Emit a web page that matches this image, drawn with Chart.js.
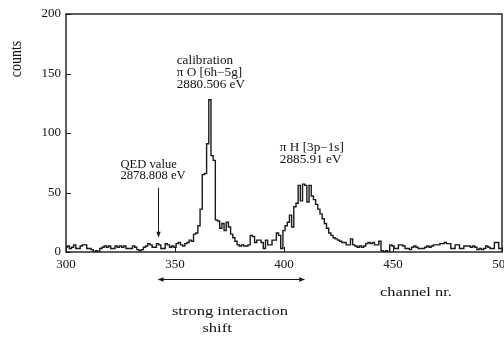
<!DOCTYPE html>
<html>
<head>
<meta charset="utf-8">
<script src="https://cdn.jsdelivr.net/npm/chart.js@4"></script>
<style>
  body { margin: 0; background: #fff; }
</style>
</head>
<body>
<canvas id="grafico" width="504" height="337"></canvas>
<script>
// counts per channel
var firstChannel = 300;
var counts300 = [4,5,3,4,6,3,3,5,6,6, 3,3,2,0,1,0,3,4,5,4, 5,3,3,5,4,5,4,5,3,3,
                 3,5,4,2,1,2,4,5,7,6, 4,4,7,6,3,3,7,6,4,5, 4,7,8,6,5,7,8,10,9,15];
var counts360 = [16,22,36,65,66,91,128,81,77,27, 26,20,24,18,25,21,15,12,9,6,
                 5,6,5,5,6,14,13,8,10,10, 8,3,10,6,6,10,10,16,14,3,
                 18,22,25,31,21,38,41,56,43,57, 56,42,56,47,44,40,36,32,28,24];
var counts420 = [20,16,14,12,11,10,9,8,8,6, 6,11,6,5,4,5,4,5,7,8,
                 7,8,6,6,9,1,0,1,0,6, 5,3,3,6,6,5,3,3,2,4,
                 5,4,3,3,3,4,5,4,5,6, 6,6,7,7,8,7,7,3,3,6];
var counts480 = [6,3,3,5,5,5,4,5,4,2, 3,2,3,5,4,3,3,8,8,3,3];

var ticksX = [300, 350, 400, 450, 500];
var ticksY = [0, 50, 100, 150, 200];

var serif = '"Liberation Serif", "Times New Roman", serif';

function buildPoints() {
  var all = counts300.concat(counts360, counts420, counts480);
  var pts = [];
  for (var i = 0; i < all.length; i++) {
    pts.push({x: firstChannel + i, y: all[i]});
  }
  return pts;
}

function text(ctx, str, x, y, size, align, sx) {
  ctx.save();
  ctx.font = size + 'px ' + serif;
  ctx.fillStyle = '#111';
  ctx.textAlign = align;
  ctx.textBaseline = 'middle';
  ctx.translate(x, y);
  ctx.scale(sx, 1);
  ctx.fillText(str, 0, 0);
  ctx.restore();
}

function head(ctx, x, y, dx, dy) {
  // small filled arrow head pointing along (dx,dy)
  var L = 6, W = 2.2;
  ctx.beginPath();
  ctx.moveTo(x, y);
  ctx.lineTo(x - dx * L - dy * W, y - dy * L + dx * W);
  ctx.lineTo(x - dx * L + dy * W, y - dy * L - dx * W);
  ctx.closePath();
  ctx.fill();
}

var extras = {
  id: 'extras',
  afterDraw: function(chart) {
    var ctx = chart.ctx;
    var a = chart.chartArea;
    var xs = chart.scales.x, ys = chart.scales.y;
    ctx.save();
    ctx.strokeStyle = '#1a1a1a';
    ctx.fillStyle = '#1a1a1a';
    ctx.lineWidth = 1.4;
    ctx.strokeRect(a.left, a.top, a.right - a.left, a.bottom - a.top);

    // inward ticks
    ctx.lineWidth = 1;
    ctx.beginPath();
    ticksY.forEach(function(v) {
      var y = Math.round(ys.getPixelForValue(v)) + 0.5;
      ctx.moveTo(a.left, y); ctx.lineTo(a.left + 5, y);
    });
    ticksX.forEach(function(v) {
      var x = Math.round(xs.getPixelForValue(v)) + 0.5;
      ctx.moveTo(x, a.bottom); ctx.lineTo(x, a.bottom - 5);
    });
    ctx.stroke();

    // peak labels
    var cx = xs.getPixelForValue(350.8);
    text(ctx, 'calibration', cx, ys.getPixelForValue(161), 12, 'left', 1.1);
    text(ctx, 'π O [6h−5g]', cx, ys.getPixelForValue(150.5), 12, 'left', 1.1);
    text(ctx, '2880.506 eV', cx, ys.getPixelForValue(140.3), 12, 'left', 1.1);

    var hx = xs.getPixelForValue(398.1);
    text(ctx, 'π H [3p−1s]', hx, ys.getPixelForValue(87.4), 12, 'left', 1.1);
    text(ctx, '2885.91 eV', hx, ys.getPixelForValue(77.3), 12, 'left', 1.1);

    var qx = xs.getPixelForValue(325);
    text(ctx, 'QED value', qx, ys.getPixelForValue(73.1), 12, 'left', 1.05);
    text(ctx, '2878.808 eV', qx, ys.getPixelForValue(63.9), 12, 'left', 1.05);

    // QED arrow
    var ax = Math.round(xs.getPixelForValue(342)) + 0.5;
    var ay1 = ys.getPixelForValue(54), ay2 = ys.getPixelForValue(12);
    ctx.beginPath();
    ctx.moveTo(ax, ay1); ctx.lineTo(ax, ay2 - 4);
    ctx.stroke();
    head(ctx, ax, ay2, 0, 1);

    // strong interaction shift arrow
    var sx1 = xs.getPixelForValue(342), sx2 = xs.getPixelForValue(409.7);
    var sy = a.bottom + 27.5;
    ctx.beginPath();
    ctx.moveTo(sx1 + 4, sy); ctx.lineTo(sx2 - 4, sy);
    ctx.stroke();
    head(ctx, sx1, sy, -1, 0);
    head(ctx, sx2, sy, 1, 0);

    text(ctx, 'channel nr.', xs.getPixelForValue(460.5), a.bottom + 41, 13, 'center', 1.26);
    text(ctx, 'strong interaction', xs.getPixelForValue(375.2), a.bottom + 60, 13, 'center', 1.27);
    text(ctx, 'shift', xs.getPixelForValue(369.3), a.bottom + 77, 13, 'center', 1.27);

    // y title
    ctx.save();
    ctx.translate(17, 59);
    ctx.rotate(-Math.PI / 2);
    ctx.scale(1, 1.2);
    ctx.font = '14px ' + serif;
    ctx.textAlign = 'center';
    ctx.textBaseline = 'middle';
    ctx.fillStyle = '#111';
    ctx.fillText('counts', 0, 0);
    ctx.restore();

    ctx.restore();
  }
};

var ctx = document.getElementById('grafico').getContext('2d');
var grafico = new Chart(ctx, {
  type: 'line',
  data: {
    datasets: [{
      data: buildPoints(),
      stepped: 'middle',
      borderColor: '#1a1a1a',
      borderWidth: 1.4,
      pointRadius: 0,
      fill: false
    }]
  },
  options: {
    responsive: false,
    animation: false,
    devicePixelRatio: 1,
    layout: { padding: { top: 14, right: 2, left: 0, bottom: 0 } },
    plugins: { legend: { display: false }, tooltip: { enabled: false } },
    scales: {
      x: {
        type: 'linear',
        min: 300,
        max: 500,
        afterFit: function(s) { s.height = 85; s.paddingLeft = 0; s.paddingRight = 0; },
        afterBuildTicks: function(s) { s.ticks = ticksX.map(function(v) { return {value: v}; }); },
        grid: { display: false, drawTicks: false },
        border: { display: false },
        ticks: { color: '#111', padding: 5, maxRotation: 0, font: { family: serif, size: 13 } }
      },
      y: {
        min: 0,
        max: 200,
        afterFit: function(s) { s.width = 66; s.paddingTop = 0; s.paddingBottom = 0; },
        afterBuildTicks: function(s) { s.ticks = ticksY.map(function(v) { return {value: v}; }); },
        grid: { display: false, drawTicks: false },
        border: { display: false },
        ticks: { color: '#111', padding: 5, font: { family: serif, size: 13 } }
      }
    }
  },
  plugins: [extras]
});
</script>
</body>
</html>
